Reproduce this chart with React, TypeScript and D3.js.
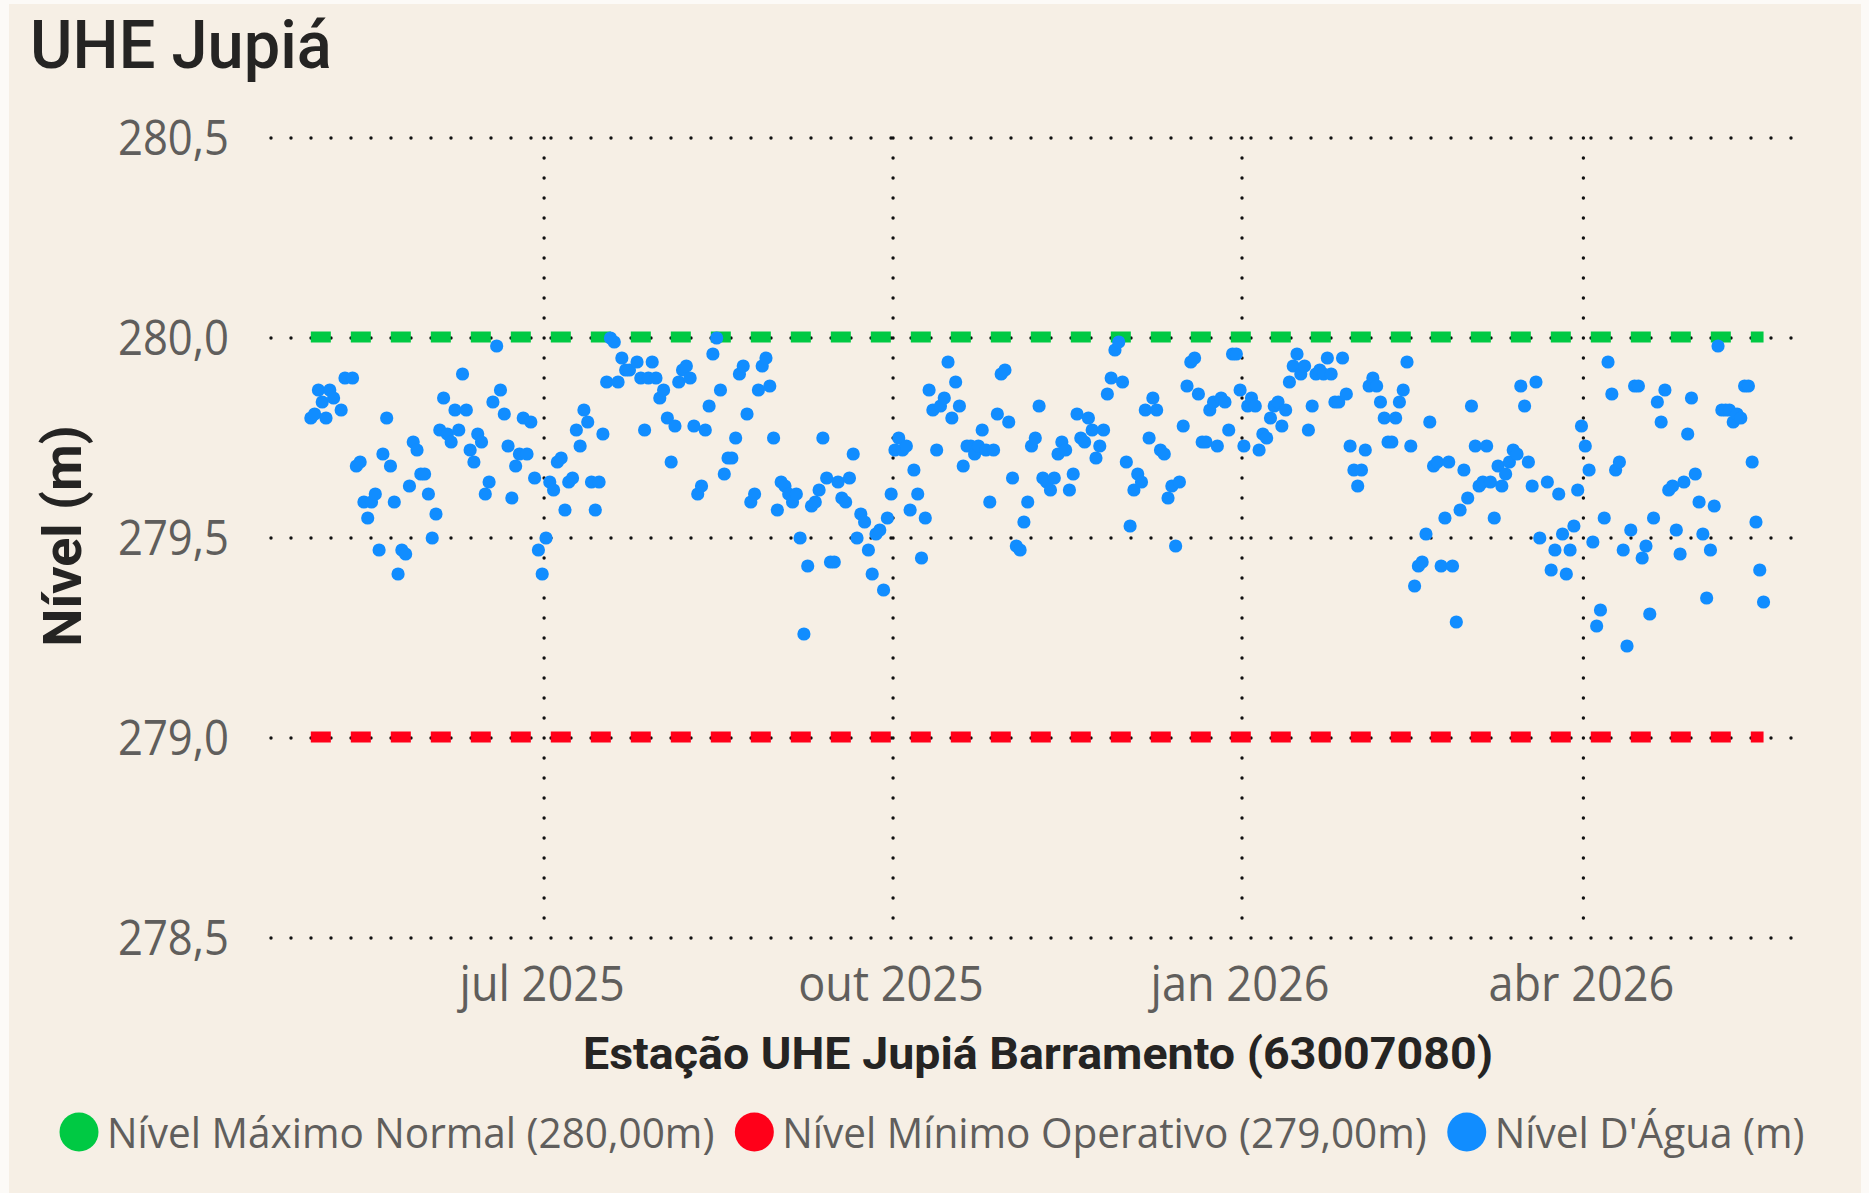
import React, { useEffect, useRef } from "react";
import * as d3 from "d3";

// Nível d'água diário (m) por mês; null = sem leitura
const abr25 = [279.8]; // começa em 30/04
const mai25 = [279.81, 279.87, 279.84, 279.8, 279.87, 279.85, null, 279.82, 279.9, null, 279.9, 279.68, 279.69, 279.59, 279.55, 279.59, 279.61, 279.47, 279.71, 279.8, 279.68, 279.59, 279.41, 279.47, 279.46, 279.63, 279.74, 279.72, 279.66, 279.66, 279.61];
const jun25 = [279.5, 279.56, 279.77, 279.85, 279.76, 279.74, 279.82, 279.77, 279.91, 279.82, 279.72, 279.69, 279.76, 279.74, 279.61, 279.64, 279.84, 279.98, 279.87, 279.81, 279.73, 279.6, 279.68, 279.71, 279.8, 279.71, 279.79, 279.65, 279.47, 279.41];
const jul25 = [279.5, 279.64, 279.62, 279.69, 279.7, 279.57, 279.64, 279.65, 279.77, 279.73, 279.82, 279.79, 279.64, 279.57, 279.64, 279.76, 279.89, 280.0, 279.99, 279.89, 279.95, 279.92, 279.92, null, 279.94, 279.9, 279.77, 279.9, 279.94, 279.9, 279.85];
const ago25 = [279.87, 279.8, 279.69, 279.78, 279.89, 279.92, 279.93, 279.9, 279.78, 279.61, 279.63, 279.77, 279.83, 279.96, 280.0, 279.87, 279.66, 279.7, 279.7, 279.75, 279.91, 279.93, 279.81, 279.59, 279.61, 279.87, 279.93, 279.95, 279.88, 279.75, 279.57];
const set25 = [279.64, 279.63, 279.61, 279.59, 279.61, 279.5, 279.26, 279.43, 279.58, 279.59, 279.62, 279.75, 279.65, 279.44, 279.44, 279.64, 279.6, 279.59, 279.65, 279.71, 279.5, 279.56, 279.54, 279.47, 279.41, 279.51, 279.52, 279.37, 279.55, 279.61];
const out25 = [279.72, 279.75, 279.72, 279.73, 279.57, 279.67, 279.61, 279.45, 279.55, 279.87, 279.82, 279.72, 279.83, 279.85, 279.94, 279.8, 279.89, 279.83, 279.68, 279.73, 279.73, 279.71, 279.73, 279.77, 279.72, 279.59, 279.72, 279.81, 279.91, 279.92, 279.79];
const nov25 = [279.65, 279.48, 279.47, 279.54, 279.59, 279.73, 279.75, 279.83, 279.65, 279.64, 279.62, 279.65, 279.71, 279.74, 279.72, 279.62, 279.66, 279.81, 279.75, 279.74, 279.8, 279.77, 279.7, 279.73, 279.77, 279.86, 279.9, 279.97, 279.99, 279.89];
const dez25 = [279.69, 279.53, 279.62, 279.66, 279.64, 279.82, 279.75, 279.85, 279.82, 279.72, 279.71, 279.6, 279.63, 279.48, 279.64, 279.78, 279.88, 279.94, 279.95, 279.86, 279.74, 279.74, 279.82, 279.84, 279.73, 279.85, 279.84, 279.77, 279.96, 279.96, 279.87];
const jan26 = [279.73, 279.83, 279.85, 279.83, 279.72, 279.76, 279.75, 279.8, 279.83, 279.84, 279.78, 279.82, 279.89, 279.93, 279.96, 279.91, 279.93, 279.77, 279.83, 279.91, 279.92, 279.91, 279.95, 279.91, 279.84, 279.84, 279.95, 279.86, 279.73, 279.67, 279.63];
const fev26 = [279.67, 279.72, 279.88, 279.9, 279.88, 279.84, 279.8, 279.74, 279.74, 279.8, 279.84, 279.87, 279.94, 279.73, 279.38, 279.43, 279.44, 279.51, 279.79, 279.68, 279.69, 279.43, 279.55, 279.69, 279.43, 279.29, 279.57, 279.67];
const mar26 = [279.6, 279.83, 279.73, 279.63, 279.64, 279.73, 279.64, 279.55, 279.68, 279.63, 279.66, 279.69, 279.72, 279.71, 279.88, 279.83, 279.69, 279.63, 279.89, 279.5, null, 279.64, 279.42, 279.47, 279.61, 279.51, 279.41, 279.47, 279.53, 279.62, 279.78];
const abr26 = [279.73, 279.67, 279.49, 279.28, 279.32, 279.55, 279.94, 279.86, 279.67, 279.69, 279.47, 279.23, 279.52, 279.88, 279.88, 279.45, 279.48, 279.31, 279.55, 279.84, 279.79, 279.87, 279.62, 279.63, 279.52, 279.46, 279.64, 279.76, 279.85, 279.66];
const mai26 = [279.59, 279.51, 279.35, 279.47, 279.58, 279.98, 279.82, 279.82, 279.82, 279.79, 279.81, 279.8, 279.88, 279.88, 279.69, 279.54, 279.42, 279.34];

// [ano, mês (0-11), primeiro dia, valores]
const meses: [number, number, number, (number | null)[]][] = [
  [2025, 3, 30, abr25],
  [2025, 4, 1, mai25],
  [2025, 5, 1, jun25],
  [2025, 6, 1, jul25],
  [2025, 7, 1, ago25],
  [2025, 8, 1, set25],
  [2025, 9, 1, out25],
  [2025, 10, 1, nov25],
  [2025, 11, 1, dez25],
  [2026, 0, 1, jan26],
  [2026, 1, 1, fev26],
  [2026, 2, 1, mar26],
  [2026, 3, 1, abr26],
  [2026, 4, 1, mai26],
];

const mesesAbrev = ["jan", "fev", "mar", "abr", "mai", "jun", "jul", "ago", "set", "out", "nov", "dez"];
const yTicks = [278.5, 279.0, 279.5, 280.0, 280.5];
const nivelMaximo = 280.0;
const nivelMinimo = 279.0;

const legenda = [
  { nome: "Nível Máximo Normal (280,00m)", cor: "#00C943" },
  { nome: "Nível Mínimo Operativo (279,00m)", cor: "#FF0019" },
  { nome: "Nível D'Água (m)", cor: "#118DFF" },
];

const W = 1869;
const H = 1193;
const FONT = "'Open Sans', 'Noto Sans', sans-serif";
const FONT_DIN = "Roboto, 'Noto Sans', sans-serif";

function App() {
  const svgRef: any = useRef(null);

  useEffect(() => {
    draw();
  }, []);

  const draw = () => {
    const svg = d3.select(svgRef.current);
    svg.selectAll("*").remove();

    const data: { date: Date; value: number }[] = [];
    meses.forEach(([ano, mes, dia0, valores]) => {
      valores.forEach((v, i) => {
        if (v == null) return;
        data.push({ date: new Date(Date.UTC(ano, mes, dia0 + i, 12)), value: v });
      });
    });

    // fundo
    svg.append("rect").attr("width", W).attr("height", H).attr("fill", "#FCFAF7");
    svg.append("rect").attr("x", 9).attr("y", 4).attr("width", W - 17).attr("height", H - 4).attr("fill", "#F6EFE5");

    const x = d3
      .scaleUtc()
      .domain([new Date(Date.UTC(2025, 3, 20)), new Date(Date.UTC(2026, 4, 26))])
      .range([271, 1792]);

    const y = d3.scaleLinear().domain([278.5, 280.5]).range([938, 138]);

    // gridlines pontilhadas
    const grid = svg.append("g").attr("stroke", "#111").attr("stroke-width", 3.4).attr("stroke-linecap", "round").attr("stroke-dasharray", "0 20");
    yTicks.forEach((t) => {
      grid.append("line").attr("x1", x.range()[0]).attr("x2", x.range()[1]).attr("y1", y(t)).attr("y2", y(t));
    });
    const xTicks = x.ticks(d3.utcMonth.every(3) as any);
    xTicks.forEach((t) => {
      grid.append("line").attr("x1", x(t)).attr("x2", x(t)).attr("y1", y.range()[1]).attr("y2", y.range()[0]);
    });

    // rótulos do eixo y
    yTicks.forEach((t) => {
      svg
        .append("g")
        .attr("transform", `translate(229, ${y(t) + 17}) scale(0.89, 1)`)
        .append("text")
        .attr("text-anchor", "end")
        .attr("font-family", FONT)
        .attr("font-size", 49)
        .attr("fill", "#605E5C")
        .text(t.toFixed(1).replace(".", ","));
    });

    // rótulos do eixo x
    xTicks.forEach((t) => {
      svg
        .append("g")
        .attr("transform", `translate(${x(t) - 2}, 1001) scale(0.92, 1)`)
        .append("text")
        .attr("text-anchor", "middle")
        .attr("font-family", FONT)
        .attr("font-size", 49)
        .attr("fill", "#605E5C")
        .text(`${mesesAbrev[t.getUTCMonth()]} ${t.getUTCFullYear()}`);
    });

    // linhas de referência
    const x0 = x(data[0].date);
    const x1 = x(data[data.length - 1].date);
    [
      { v: nivelMaximo, cor: legenda[0].cor },
      { v: nivelMinimo, cor: legenda[1].cor },
    ].forEach((r) => {
      svg
        .append("line")
        .attr("x1", x0)
        .attr("x2", x1)
        .attr("y1", y(r.v) - 1)
        .attr("y2", y(r.v) - 1)
        .attr("stroke", r.cor)
        .attr("stroke-width", 11)
        .attr("stroke-dasharray", "20 20");
    });

    // pontos
    svg
      .append("g")
      .selectAll("circle")
      .data(data)
      .join("circle")
      .attr("cx", (d) => x(d.date))
      .attr("cy", (d) => y(d.value))
      .attr("r", 6.6)
      .attr("fill", legenda[2].cor);

    // título
    svg
      .append("g")
      .attr("transform", "translate(30, 68) scale(0.97, 1)")
      .append("text")
      .attr("font-family", FONT_DIN)
      .attr("font-weight", 500)
      .attr("font-size", 67)
      .attr("fill", "#252423")
      .text("UHE Jupiá");

    // títulos dos eixos
    svg
      .append("g")
      .attr("transform", "translate(1038, 1069) scale(1.035, 1)")
      .append("text")
      .attr("text-anchor", "middle")
      .attr("font-family", FONT_DIN)
      .attr("font-weight", 700)
      .attr("font-size", 45)
      .attr("fill", "#252423")
      .text("Estação UHE Jupiá Barramento (63007080)");

    svg
      .append("text")
      .attr("transform", `translate(81, ${(y.range()[0] + y.range()[1]) / 2 - 2}) rotate(-90)`)
      .attr("text-anchor", "middle")
      .attr("font-family", FONT_DIN)
      .attr("font-weight", 700)
      .attr("font-size", 54)
      .attr("fill", "#252423")
      .text("Nível (m)");

    // legenda
    let cx = 79;
    const sx = 0.965;
    legenda.forEach((l) => {
      svg.append("circle").attr("cx", cx).attr("cy", 1132).attr("r", 19.5).attr("fill", l.cor);
      const g = svg.append("g").attr("transform", `translate(${cx + 28}, 1148) scale(${sx}, 1)`);
      const txt = g
        .append("text")
        .attr("font-family", FONT)
        .attr("font-size", 42)
        .attr("fill", "#605E5C")
        .text(l.nome);
      const w = (txt.node() as SVGTextElement).getComputedTextLength() * sx;
      cx = cx + 28 + w + 40;
    });
  };

  return (
    <div style={{ position: "absolute", left: 0, top: 0, width: W, height: H }}>
      <svg ref={svgRef} width={W} height={H} style={{ display: "block" }} />
    </div>
  );
}

export default App;
